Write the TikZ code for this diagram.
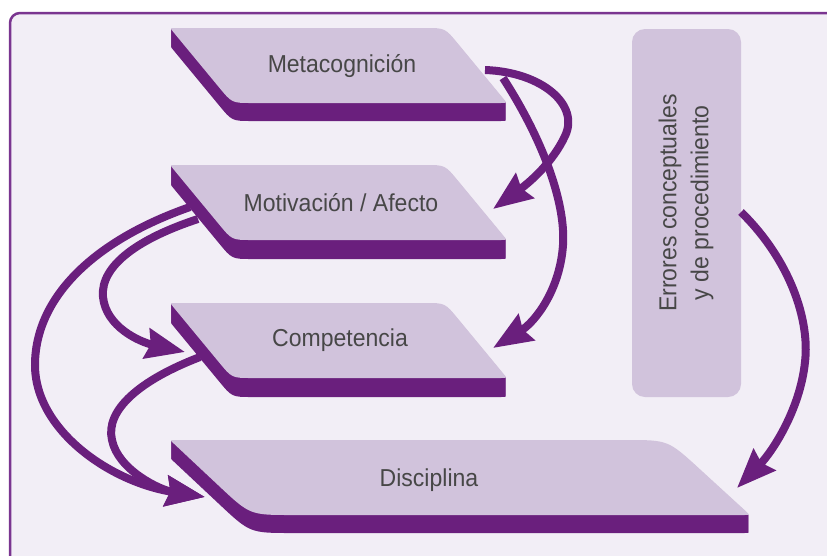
\documentclass[tikz,border=0pt]{standalone}
\usepackage{fontspec}
\setmainfont{Liberation Sans}[FakeStretch=0.94]
\usetikzlibrary{calc,arrows.meta}
\definecolor{bgc}{HTML}{F2EEF6}
\definecolor{facec}{HTML}{D1C3DC}
\definecolor{dk}{HTML}{6A1F7D}
\definecolor{framec}{HTML}{7A3590}
\definecolor{txt}{HTML}{474747}
% #1 TLx #2 TRx #3 BLx #4 BRx #5 ytop #6 ybot #7 big radius
\newcommand\slabpath[7]{($(#1,#5)!5pt!(#2,#5)$) -- ($(#2,#5)!#7!(#1,#5)$) .. controls (#2,#5) .. ($(#2,#5)!#7!(#4,#6)$) -- ($(#4,#6)!6pt!(#2,#5)$) .. controls (#4,#6) .. ($(#4,#6)!6pt!(#3,#6)$) -- ($(#3,#6)!#7!(#4,#6)$) .. controls (#3,#6) .. ($(#3,#6)!#7!(#1,#5)$) -- ($(#1,#5)!5pt!(#3,#6)$) .. controls (#1,#5) .. cycle}
\newcommand\slab[8]{%
  \foreach \d in {1,...,#8}{\fill[dk,yshift=-\d pt] \slabpath{#1}{#2}{#3}{#4}{#5}{#6}{#7};}
  \fill[facec] \slabpath{#1}{#2}{#3}{#4}{#5}{#6}{#7};
}
\tikzset{
  lbl/.style={text=txt, font=\fontsize{24.5}{32}\selectfont, inner sep=0pt, align=center},
  conn/.style={draw=dk, line width=8pt, -{Stealth[length=39pt,width=30pt,inset=4pt]}},
}
\begin{document}
\begin{tikzpicture}[x=1pt,y=-1pt]
\clip (0,0) rectangle (827,555);
\fill[white] (0,0) rectangle (827,555);
\draw[framec, line width=2.5pt, rounded corners=10pt, fill=bgc] (10,13) rectangle (900,620);

% slabs
\slab{170}{445}{232}{507}{28}{103}{20pt}{18}
\slab{170}{445}{232}{507}{165}{240}{20pt}{19}
\slab{170}{445}{232}{507}{303}{378}{20pt}{19}
\slab{170}{668}{250}{750}{440}{515}{42pt}{18}

\node[lbl] (meta) at (342,66) {Metacognición};
\node[lbl] (moti) at (341,203) {Motivación / Afecto};
\node[lbl] (comp) at (340,340) {Competencia};
\node[lbl] (disc) at (429,480) {Disciplina};

\node[fill=facec, rounded corners=13pt, minimum width=109pt, minimum height=368pt, inner sep=0pt] (err) at (686.5,213) {};
\node[lbl, rotate=90] (errt) at (686,203) {Errores conceptuales\\y de procedimiento};

% connector end points
\coordinate (aS) at (485,70);
\coordinate (aE) at (493,209);
\coordinate (bS) at (503,78);
\coordinate (bE) at (493,348);
\coordinate (cS) at (198,219);
\coordinate (cE) at (185,352);
\coordinate (dS) at (190,207);
\coordinate (dE) at (205,497);
\coordinate (eS) at (200,357);
\coordinate (fS) at (741,212);
\coordinate (fE) at (737,488);

\draw[conn] (aS) .. controls (542,72) and (580,105) .. (565,136) .. controls (553,162) and (530,182) .. (aE);
\draw[conn] (bS) .. controls (540,135) and (566,200) .. (563,245) .. controls (560,290) and (535,322) .. (bE);
\draw[conn] (cS) .. controls (140,238) and (100,265) .. (103,297) .. controls (106,327) and (140,342) .. (cE);
\draw[conn] (dS) .. controls (90,242) and (35,300) .. (35,365) .. controls (35,430) and (110,482) .. (dE);
\draw[conn] (eS) .. controls (140,380) and (105,410) .. (112,440) .. controls (118,470) and (160,490) .. (dE);
\draw[conn] (fS) .. controls (790,260) and (810,320) .. (805,362) .. controls (800,410) and (772,452) .. (fE);
\end{tikzpicture}
\end{document}
